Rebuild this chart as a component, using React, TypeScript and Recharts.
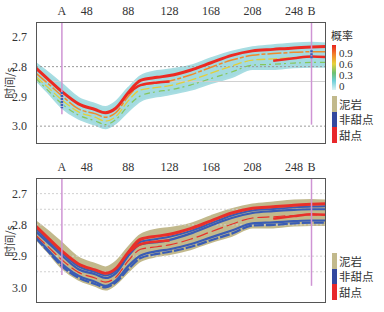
import { Area, ComposedChart, Line, ReferenceLine, XAxis, YAxis } from "recharts";

// trace positions along the A-B profile
const traceX = [-1, 10, 24, 40, 56, 66, 76, 88, 100, 116, 128, 148, 168, 188, 208, 228, 248, 265, 279];

// horizon band (top / base of target layer), time in s
const bandTop = [2.789, 2.818, 2.858, 2.905, 2.925, 2.936, 2.918, 2.872, 2.832, 2.815, 2.81, 2.797, 2.772, 2.75, 2.735, 2.728, 2.722, 2.72, 2.722];
const bandBottom = [2.845, 2.885, 2.938, 2.975, 2.995, 3.007, 2.99, 2.95, 2.915, 2.9, 2.893, 2.878, 2.855, 2.835, 2.808, 2.808, 2.802, 2.8, 2.8];

// internal traces
const redMain = [2.805, 2.84, 2.884, 2.925, 2.944, 2.955, 2.94, 2.888, 2.846, 2.836, 2.83, 2.812, 2.787, 2.762, 2.747, 2.742, 2.737, 2.734, 2.732];
const redLower = [null, null, null, null, null, null, null, 2.89, 2.862, 2.853, 2.85, null, null, null, null, 2.78, 2.772, 2.766, 2.768];
const upperTrace = [2.813, 2.848, 2.89, 2.933, 2.951, 2.962, 2.947, 2.894, 2.854, 2.845, 2.838, 2.82, 2.795, 2.77, 2.754, 2.749, 2.744, 2.741, 2.74];
const orangeTrace = [2.822, 2.855, 2.898, 2.942, 2.958, 2.97, 2.955, 2.9, 2.862, 2.855, 2.848, 2.828, 2.802, 2.778, 2.762, 2.756, 2.752, 2.75, 2.75];
const yellowTrace = [2.834, 2.868, 2.912, 2.952, 2.97, 2.983, 2.968, 2.915, 2.878, 2.87, 2.864, 2.846, 2.822, 2.798, 2.778, 2.774, 2.77, 2.768, 2.768];
const greenTrace = [2.84, 2.878, 2.925, 2.963, 2.982, 2.995, 2.978, 2.932, 2.898, 2.884, 2.878, 2.862, 2.84, 2.818, 2.795, 2.792, 2.788, 2.786, 2.786];
const deepTrace = [2.842, 2.882, 2.932, 2.969, 2.989, 3.0, 2.984, 2.942, 2.906, 2.893, 2.886, 2.871, 2.849, 2.828, 2.802, 2.8, 2.795, 2.793, 2.793];

const xTicks = [24, 48, 88, 128, 168, 208, 248, 265];
const xTickLabels = ["A", "48", "88", "128", "168", "208", "248", "B"];
const yTicks = [2.7, 2.8, 2.9, 3.0];

const wellA = { x: 24, end: 2.96, log: [2.885, 2.94] };
const wellB = { x: 265, end: 2.995, log: [2.745, 2.775] };

const probLabels = ["0.9", "0.6", "0.3", "0"];
const lithoLabels = ["泥岩", "非甜点", "甜点"];
const lithoColors = ["#c2b98c", "#33489e", "#e8272a"];

const rows = traceX.map((x, i) => ({
  x,
  band: [bandTop[i], bandBottom[i]],
  redMain: redMain[i],
  redLower: redLower[i],
  upper: upperTrace[i],
  orange: orangeTrace[i],
  yellow: yellowTrace[i],
  green: greenTrace[i],
  deep: deepTrace[i],
}));

const SERIF = '"Liberation Serif", "DejaVu Serif", serif';
const CJK = '"Noto Sans CJK SC", "Noto Sans", sans-serif';

const xLabel = (v: number) => {
  const i = xTicks.indexOf(v);
  return i >= 0 ? xTickLabels[i] : String(v);
};

type PanelProps = {
  top: number;
  mode: "prob" | "litho";
  yDomain: [number, number];
  grid: number[];
  marginBottom: number;
};

function Panel({ top, mode, yDomain, grid, marginBottom }: PanelProps) {
  const height = 150;
  const plotTop = 22;
  const plotHeight = height - plotTop - marginBottom;
  const prob = mode === "prob";

  const lineProps = { type: "monotone" as const, dot: false, activeDot: false, isAnimationActive: false };

  return (
    <div style={{ position: "absolute", left: 0, top, width: 384, height }}>
      <ComposedChart width={384} height={height} data={rows} margin={{ top: 0, right: 58, bottom: marginBottom, left: 0 }}>
        <XAxis
          dataKey="x"
          type="number"
          orientation="top"
          domain={[-1, 279]}
          ticks={xTicks}
          interval={0}
          tickFormatter={xLabel}
          height={22}
          axisLine={false}
          tickLine={false}
          tickSize={4}
          tickMargin={3}
          allowDataOverflow
          tick={{ fill: "#333", fontSize: 12, fontFamily: SERIF }}
        />
        <YAxis
          type="number"
          domain={yDomain}
          reversed
          ticks={yTicks}
          interval={0}
          tickFormatter={(v: number) => v.toFixed(1)}
          width={36}
          axisLine={false}
          tickLine={false}
          tickMargin={3}
          allowDataOverflow
          tick={{ fill: "#333", fontSize: 12, fontFamily: SERIF }}
        />
        {grid.map((g) => (
          <ReferenceLine
            key={g}
            y={g}
            stroke={prob && (g === 2.8 || g === 3.0) ? "#9a9a9a" : "#d0d0d0"}
            strokeDasharray={prob && g === 2.85 ? undefined : "2 2"}
          />
        ))}
        <Area
          dataKey="band"
          type="monotone"
          stroke={prob ? "#a8dde2" : "#c2b98c"}
          strokeWidth={2}
          fill={prob ? "#a3dbe0" : "#c2b98c"}
          fillOpacity={1}
          isAnimationActive={false}
          activeDot={false}
        />
        {prob ? (
          <>
            <Line {...lineProps} dataKey="green" stroke="#86c65c" strokeWidth={1.2} strokeDasharray="6 3 2 4" />
            <Line {...lineProps} dataKey="yellow" stroke="#e3cf3a" strokeWidth={1.3} strokeDasharray="9 3" />
            <Line {...lineProps} dataKey="orange" stroke="#f08a2a" strokeWidth={1.5} strokeDasharray="14 2 4 2" />
            <Line {...lineProps} dataKey="redLower" stroke="#ec2a22" strokeWidth={2.5} />
            <Line {...lineProps} dataKey="redMain" stroke="#ec2a22" strokeWidth={3} />
          </>
        ) : (
          <>
            <Line {...lineProps} dataKey="deep" stroke="#3a5cb4" strokeWidth={2.2} strokeDasharray="10 2" />
            <Line {...lineProps} dataKey="green" stroke="#3a5cb4" strokeWidth={2.2} />
            <Line {...lineProps} dataKey="orange" stroke="#3a5cb4" strokeWidth={2.2} />
            <Line {...lineProps} dataKey="upper" stroke="#3a5cb4" strokeWidth={2} />
            <Line {...lineProps} dataKey="yellow" stroke="#e8302a" strokeWidth={1.2} strokeDasharray="12 4" />
            <Line {...lineProps} dataKey="redLower" stroke="#e8302a" strokeWidth={2.5} />
            <Line {...lineProps} dataKey="redMain" stroke="#e8302a" strokeWidth={3} />
          </>
        )}
        <ReferenceLine
          segment={[{ x: wellA.x, y: yDomain[0] }, { x: wellA.x, y: wellA.end }]}
          stroke="#cf94d4"
          strokeWidth={1.5}
          ifOverflow="extendDomain"
        />
        <ReferenceLine
          segment={[{ x: wellB.x, y: yDomain[0] }, { x: wellB.x, y: wellB.end }]}
          stroke="#cf94d4"
          strokeWidth={1.5}
          ifOverflow="extendDomain"
        />
        {prob ? (
          <>
            <ReferenceLine segment={[{ x: wellA.x, y: wellA.log[0] }, { x: wellA.x, y: wellA.log[1] }]} stroke="#3d5fb8" strokeWidth={2.5} strokeDasharray="2 1" />
            <ReferenceLine segment={[{ x: wellB.x, y: wellB.log[0] }, { x: wellB.x, y: wellB.log[1] }]} stroke="#3d5fb8" strokeWidth={2.5} strokeDasharray="2 1" />
          </>
        ) : null}
      </ComposedChart>
      <div
        style={{
          position: "absolute",
          left: 36,
          top: plotTop,
          width: 290,
          height: plotHeight,
          border: "1px solid #555",
          boxSizing: "border-box",
          pointerEvents: "none",
        }}
      />
      <div
        style={{
          position: "absolute",
          left: -11,
          top: plotTop + plotHeight / 2 - 6,
          width: 40,
          height: 12,
          transform: "rotate(-90deg)",
          textAlign: "center",
          fontFamily: CJK,
          fontSize: 11,
          lineHeight: "12px",
          color: "#333",
          whiteSpace: "nowrap",
        }}
      >
        时间/s
      </div>
      {prob ? (
        <>
          <div style={{ position: "absolute", left: 331, top: 29, fontFamily: CJK, fontSize: 11, lineHeight: "12px", color: "#333" }}>概率</div>
          <div
            style={{
              position: "absolute",
              left: 332,
              top: 45,
              width: 4,
              height: 45,
              background: "linear-gradient(to bottom, #e8231f 0%, #f2862a 22%, #e6d23a 42%, #6cc070 62%, #6fcfd8 80%, #dcf2f4 100%)",
            }}
          />
          {probLabels.map((l, i) => (
            <div
              key={l}
              style={{ position: "absolute", left: 339, top: 47.5 + i * 11.3, fontFamily: SERIF, fontSize: 11, lineHeight: "10px", color: "#333" }}
            >
              {l}
            </div>
          ))}
        </>
      ) : null}
      {lithoLabels.map((l, i) => {
        const y0 = prob ? 96 : 97;
        return (
          <div key={l}>
            <div style={{ position: "absolute", left: 332, top: y0 + i * 15.5, width: 5, height: 15.5, background: lithoColors[i] }} />
            <div style={{ position: "absolute", left: 339, top: y0 + i * 15.5 + 1.5, fontFamily: CJK, fontSize: 11.5, lineHeight: "13px", color: "#333" }}>
              {l}
            </div>
          </div>
        );
      })}
    </div>
  );
}

export default function App() {
  return (
    <div style={{ position: "absolute", left: 0, top: 0, width: 384, height: 312, background: "#fff", overflow: "hidden" }}>
      <Panel top={0} mode="prob" yDomain={[2.65, 3.06]} grid={[2.8, 2.85, 3.0]} marginBottom={6} />
      <Panel top={156} mode="litho" yDomain={[2.65, 3.05]} grid={[2.7, 2.75, 2.8, 2.9, 2.95]} marginBottom={3} />
    </div>
  );
}
